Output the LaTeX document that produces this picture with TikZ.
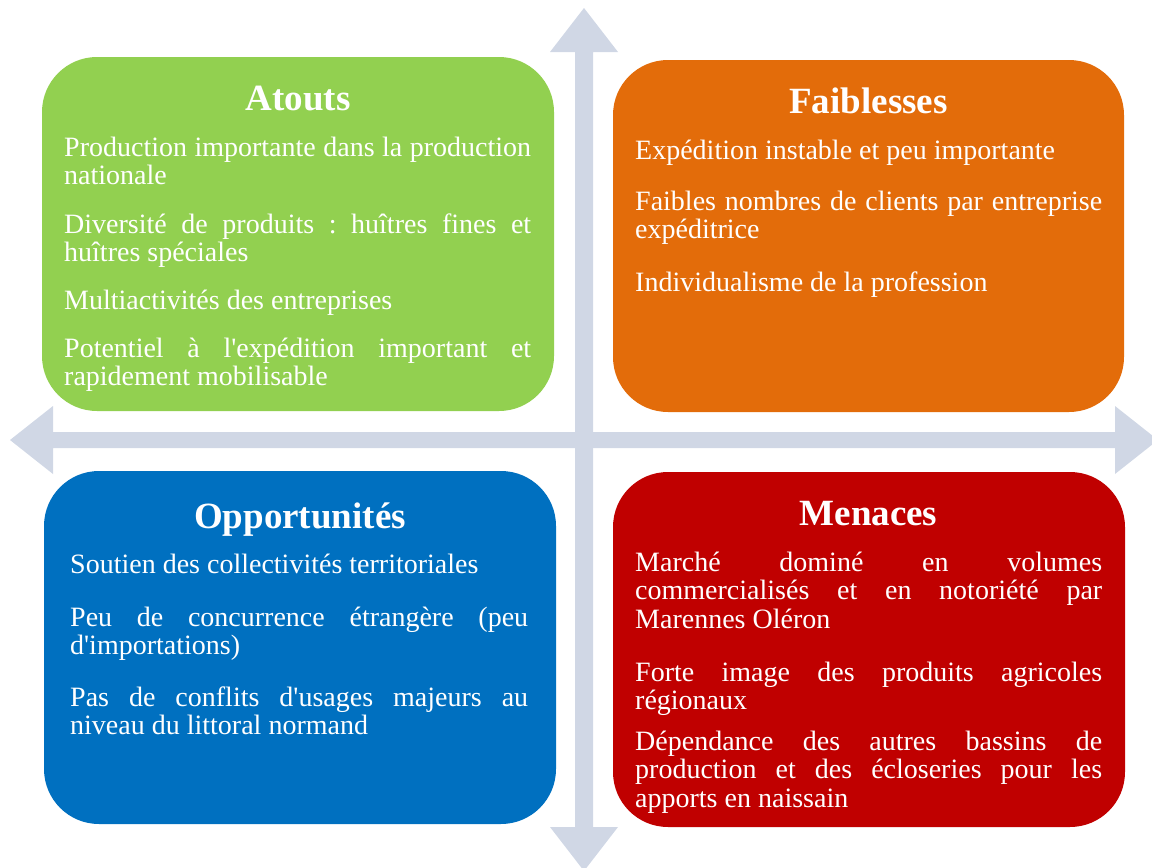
\documentclass[tikz,border=0pt]{standalone}
\usepackage{fontspec}
\newfontfamily\lib{Liberation Serif}
\frenchspacing
\definecolor{cgreen}{HTML}{92D050}
\definecolor{corange}{HTML}{E36C0A}
\definecolor{cblue}{HTML}{0070C0}
\definecolor{cred}{HTML}{C00000}
\definecolor{carrow}{HTML}{D0D7E5}
\tikzset{
  quad/.style={fill=#1, draw=none, rounded corners=55pt},
  ttl/.style={anchor=base, text=white, inner sep=0pt, font=\lib\bfseries\fontsize{37}{40}\selectfont},
  para/.style={anchor=base west, text=white, inner sep=0pt, text width=#1, align=justify,
    font=\lib\frenchspacing\fontsize{28}{28.9}\selectfont},
  axis/.style={fill=carrow, draw=none}
}
\begin{document}
\begin{tikzpicture}[x=1pt,y=-1pt]
\useasboundingbox (0,0) rectangle (1152,868);
% axes
\fill[axis] (575,52) -- (550,52) -- (584,8) -- (618,52) -- (593,52) -- (593,827) -- (618,827) -- (584,871) -- (550,827) -- (575,827) -- cycle;
\fill[axis] (53,432) -- (53,406) -- (10,440) -- (53,474) -- (53,448) -- (1115,448) -- (1115,474) -- (1158,440) -- (1115,406) -- (1115,432) -- cycle;
% boxes
\fill[quad=cgreen] (42,57) rectangle (554,411);
\fill[quad=corange] (613,60) rectangle (1124,412);
\fill[quad=cblue] (44,471) rectangle (556,824);
\fill[quad=cred] (613,472) rectangle (1125,827);
% titles
\node[ttl] (tA) at (298,110) {Atouts};
\node[ttl] (tF) at (868.5,113) {Faiblesses};
\node[ttl] (tO) at (300,528) {Opportunités};
\node[ttl] (tM) at (868.5,525) {Menaces};
% Atouts
\node[para=467pt] (a1) at (64,156) {Production importante dans la production\linebreak nationale};
\node[para=467pt] (a2) at (64,233) {Diversité de produits : huîtres fines et\linebreak huîtres spéciales};
\node[para=467pt] (a3) at (64,309) {Multiactivités des entreprises};
\node[para=467pt] (a4) at (64,357) {Potentiel à l'expédition important et\linebreak rapidement mobilisable};
% Faiblesses
\node[para=467pt] (f1) at (635,159) {Expédition instable et peu importante};
\node[para=467pt] (f2) at (635,210) {Faibles nombres de clients par entreprise\linebreak expéditrice};
\node[para=467pt] (f3) at (635,291) {Individualisme de la profession};
% Opportunites
\node[para=458pt] (o1) at (70,573) {Soutien des collectivités territoriales};
\node[para=458pt] (o2) at (70,626) {Peu de concurrence étrangère (peu\linebreak d'importations)};
\node[para=458pt] (o3) at (70,706) {Pas de conflits d'usages majeurs au\linebreak niveau du littoral normand};
% Menaces
\node[para=467pt] (m1) at (635,571) {Marché dominé en volumes\linebreak commercialisés et en notoriété par\linebreak Marennes Oléron};
\node[para=467pt] (m2) at (635,681) {Forte image des produits agricoles\linebreak régionaux};
\node[para=467pt] (m3) at (635,750) {Dépendance des autres bassins de\linebreak production et des écloseries pour les\linebreak apports en naissain};
\end{tikzpicture}
\end{document}
